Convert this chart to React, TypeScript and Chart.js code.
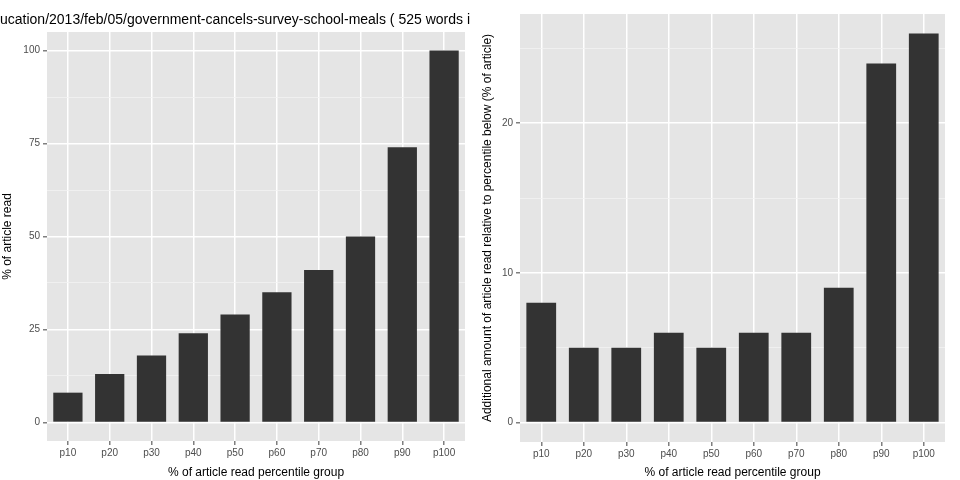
import React, { useEffect, useRef } from "react";
import { Chart, registerables } from "chart.js";
Chart.register(...registerables);

const categories = ["p10","p20","p30","p40","p50","p60","p70","p80","p90","p100"];
const pctRead = [8,13,18,24,29,35,41,50,74,100];
const additional = [8,5,5,6,5,6,6,9,24,26];
const leftTicks = [0,12.5,25,37.5,50,62.5,75,87.5,100];
const rightTicks = [0,5,10,15,20,25];
const titleText = "ucation/2013/feb/05/government-cancels-survey-school-meals ( 525 words i";

const FONT = "Liberation Sans, Arial, sans-serif";

const bgPlugin = {
  id: "bg",
  beforeDraw(c: any) {
    const { ctx, chartArea: a } = c;
    ctx.save();
    ctx.fillStyle = "#E5E5E5";
    ctx.fillRect(a.left, a.top, a.right - a.left, a.bottom - a.top);
    ctx.restore();
  },
};

function makeChart(canvas: HTMLCanvasElement, data: number[], o: any) {
  const titlePlugin = {
    id: "ttl",
    afterDraw(c: any) {
      if (!o.title) return;
      const ctx = c.ctx;
      ctx.save();
      ctx.font = "14px " + FONT;
      ctx.fillStyle = "#000";
      ctx.textBaseline = "middle";
      ctx.fillText(o.title, 0, 20);
      ctx.restore();
    },
  };
  return new Chart(canvas, {
    type: "bar",
    data: { labels: categories, datasets: [{ data, backgroundColor: "#333333", barPercentage: 0.7, categoryPercentage: 1 }] },
    plugins: [bgPlugin, titlePlugin],
    options: {
      animation: false,
      responsive: false,
      layout: { padding: { top: o.top, right: 15, left: 0, bottom: 0 } },
      plugins: { legend: { display: false }, tooltip: { enabled: false } },
      scales: {
        x: {
          afterFit: (s: any) => { s.height = o.xh; },
          grid: { color: "#FFFFFF", lineWidth: 1.5, drawTicks: true, tickLength: 4, tickColor: "#7F7F7F", offset: false },
          border: { display: false },
          ticks: { color: "#4D4D4D", font: { size: 10, family: FONT }, padding: 2 },
          title: { display: true, text: "% of article read percentile group", color: "#000", font: { size: 12, family: FONT }, padding: { top: 0, bottom: 0 } },
        },
        y: {
          min: o.min, max: o.max,
          afterFit: (s: any) => { s.width = o.yw; },
          afterBuildTicks: (s: any) => { s.ticks = o.ticks.map((v: number) => ({ value: v })); },
          grid: {
            color: (ctx: any) => (o.labels.includes(ctx.tick?.value) ? "#FFFFFF" : "#F2F2F2"),
            lineWidth: (ctx: any) => (o.labels.includes(ctx.tick?.value) ? 1.5 : 0.8),
            tickLength: 4,
            tickColor: (ctx: any) => (o.labels.includes(ctx.tick?.value) ? "#7F7F7F" : "rgba(0,0,0,0)"),
          },
          border: { display: false },
          ticks: {
            color: "#4D4D4D", font: { size: 10, family: FONT }, padding: 3,
            callback: (v: any) => (o.labels.includes(v) ? String(v) : ""),
          },
          title: { display: true, text: o.ytitle, color: "#000", font: { size: 12, family: FONT }, padding: { top: 0, bottom: 2 } },
        },
      },
    },
  });
}

export default function App() {
  const l = useRef<HTMLCanvasElement>(null);
  const r = useRef<HTMLCanvasElement>(null);
  useEffect(() => {
    document.body.style.margin = "0";
    document.body.style.background = "#fff";
    const a = makeChart(l.current!, pctRead, { min: -5, max: 105, ticks: leftTicks, labels: [0,25,50,75,100], yw: 47, xh: 39, top: 32, ytitle: "% of article read", title: titleText });
    const b = makeChart(r.current!, additional, { min: -1.3, max: 27.3, ticks: rightTicks, labels: [0,10,20], yw: 40, xh: 38, top: 14, ytitle: "Additional amount of article read relative to percentile below (% of article)" });
    return () => { a.destroy(); b.destroy(); };
  }, []);
  return (
    <div style={{ display: "flex", width: 960, height: 480 }}>
      <canvas ref={l} width={480} height={480} style={{ width: 480, height: 480 }} />
      <canvas ref={r} width={480} height={480} style={{ width: 480, height: 480 }} />
    </div>
  );
}
